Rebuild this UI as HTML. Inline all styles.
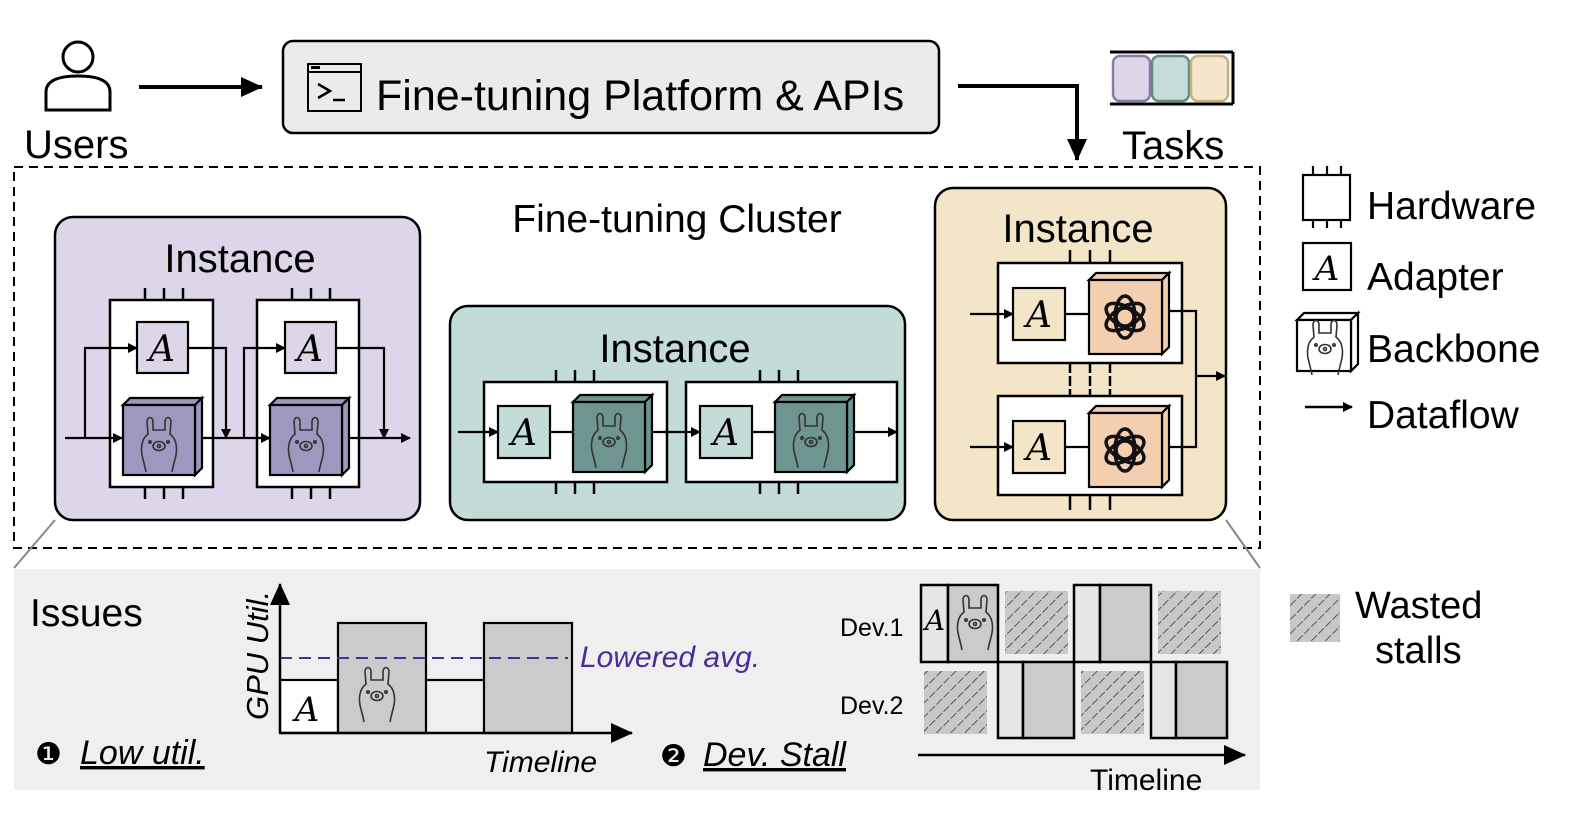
<!DOCTYPE html>
<html><head><meta charset="utf-8"><style>html,body{margin:0;padding:0;background:#fff}svg{display:block}text{font-family:"Liberation Sans",sans-serif}.A{font-family:"DejaVu Serif",serif;font-style:italic}</style></head><body>
<svg width="1586" height="828" viewBox="0 0 1586 828" xmlns="http://www.w3.org/2000/svg">
<defs>
<marker id="ah" markerWidth="10" markerHeight="10" refX="9" refY="5" orient="auto" markerUnits="userSpaceOnUse"><path d="M0,0 L10,5 L0,10z" fill="#000"/></marker>
<marker id="ahb" markerWidth="22" markerHeight="20" refX="21" refY="10" orient="auto" markerUnits="userSpaceOnUse"><path d="M0,0 L22,10 L0,20z" fill="#000"/></marker>
<pattern id="hatch" width="10" height="10" patternUnits="userSpaceOnUse" patternTransform="rotate(45)"><rect width="10" height="10" fill="#c8c8c8"/><line x1="0" y1="0" x2="0" y2="10" stroke="#333" stroke-width="1.5" stroke-dasharray="6,2"/></pattern>
<g id="llama" fill="none" stroke="#333" stroke-width="1.6">
<path d="M12,62 C10,50 6,44 8,34 C9,28 12,26 14,24 L13,12 C13,6 19,6 19,12 L19,20 L31,20 L31,12 C31,6 37,6 37,12 L36,24 C38,26 41,28 42,34 C44,44 40,50 38,62"/>
<ellipse cx="25" cy="36" rx="6" ry="4.5"/><circle cx="25" cy="36" r="1.5"/><circle cx="16" cy="32" r="1.2"/><circle cx="34" cy="32" r="1.2"/>
</g>
<g id="oai" fill="none" stroke="#111" stroke-width="3.5">
<g transform="translate(25,25)">
<ellipse rx="10" ry="21" transform="rotate(0)"/>
<ellipse rx="10" ry="21" transform="rotate(60)"/>
<ellipse rx="10" ry="21" transform="rotate(120)"/>
<circle r="9"/>
</g></g>
</defs>

<circle cx="78" cy="57" r="15" fill="none" stroke="#000" stroke-width="3"/>
<path d="M46,110 L46,92 C46,80 60,76 78,76 C96,76 110,80 110,92 L110,110 Z" fill="none" stroke="#000" stroke-width="3"/>
<text x="24" y="158" font-size="40">Users</text>
<line x1="139" y1="87" x2="262" y2="87" stroke="#000" stroke-width="4" marker-end="url(#ahb)"/>

<rect x="283" y="41" width="656" height="92" rx="10" fill="#ebebeb" stroke="#000" stroke-width="2.5"/>
<rect x="308" y="64" width="53" height="47" fill="none" stroke="#000" stroke-width="2"/>
<line x1="308" y1="72" x2="361" y2="72" stroke="#000" stroke-width="2"/>
<rect x="311" y="66" width="9" height="3" fill="#000"/>
<path d="M318,84 L330,91 L318,98" fill="none" stroke="#000" stroke-width="2.5"/>
<line x1="333" y1="100" x2="345" y2="100" stroke="#000" stroke-width="2.5"/>
<text x="376" y="110" font-size="43">Fine-tuning Platform &amp; APIs</text>
<polyline points="958,86 1077,86 1077,160" fill="none" stroke="#000" stroke-width="4" marker-end="url(#ahb)"/>

<line x1="1110" y1="52" x2="1233" y2="52" stroke="#000" stroke-width="3"/>
<line x1="1110" y1="104" x2="1233" y2="104" stroke="#000" stroke-width="3"/>
<line x1="1233" y1="52" x2="1233" y2="104" stroke="#000" stroke-width="3"/>
<rect x="1113" y="56" width="37" height="45" rx="7" fill="#ddd5e8" stroke="#8a78a8" stroke-width="2.5"/>
<rect x="1152" y="56" width="37" height="45" rx="7" fill="#c4ddd8" stroke="#5f8b84" stroke-width="2.5"/>
<rect x="1191" y="56" width="37" height="45" rx="7" fill="#f4e6cc" stroke="#c9b07f" stroke-width="2.5"/>
<text x="1122" y="159" font-size="40">Tasks</text>

<rect x="14" y="167" width="1246" height="381" fill="none" stroke="#000" stroke-width="2" stroke-dasharray="9,6"/>
<text x="677" y="232" font-size="39" text-anchor="middle">Fine-tuning Cluster</text>

<rect x="55" y="217" width="365" height="303" rx="18" fill="#dcd6e8" stroke="#000" stroke-width="2.5"/>
<text x="240" y="272" font-size="40" text-anchor="middle">Instance</text>
<g stroke="#000" stroke-width="2.5">
<line x1="145" y1="288" x2="145" y2="300"/><line x1="164" y1="288" x2="164" y2="300"/><line x1="183" y1="288" x2="183" y2="300"/>
<line x1="145" y1="487" x2="145" y2="499"/><line x1="164" y1="487" x2="164" y2="499"/><line x1="183" y1="487" x2="183" y2="499"/>
<line x1="292" y1="288" x2="292" y2="300"/><line x1="311" y1="288" x2="311" y2="300"/><line x1="330" y1="288" x2="330" y2="300"/>
<line x1="292" y1="487" x2="292" y2="499"/><line x1="311" y1="487" x2="311" y2="499"/><line x1="330" y1="487" x2="330" y2="499"/>
</g>
<rect x="110" y="300" width="103" height="187" fill="#fff" stroke="#000" stroke-width="2.5"/>
<rect x="257" y="300" width="102" height="187" fill="#fff" stroke="#000" stroke-width="2.5"/>
<g fill="none" stroke="#000" stroke-width="2.2">
<line x1="65" y1="438" x2="122" y2="438" marker-end="url(#ah)"/>
<polyline points="85,438 85,348 137,348" marker-end="url(#ah)"/>
<polyline points="188,348 226,348 226,438" marker-end="url(#ah)"/>
<line x1="200" y1="438" x2="270" y2="438" marker-end="url(#ah)"/>
<polyline points="244,438 244,348 285,348" marker-end="url(#ah)"/>
<polyline points="336,348 384,348 384,438" marker-end="url(#ah)"/>
<line x1="346" y1="438" x2="410" y2="438" marker-end="url(#ah)"/>
</g>
<rect x="137" y="322" width="51" height="51" fill="#dcd6e8" stroke="#000" stroke-width="2.2"/>
<text x="162" y="361" font-size="36" class="A" text-anchor="middle">A</text>
<rect x="285" y="322" width="51" height="51" fill="#dcd6e8" stroke="#000" stroke-width="2.2"/>
<text x="310" y="361" font-size="36" class="A" text-anchor="middle">A</text>
<g stroke="#000" stroke-width="2.2" fill="#9e98bf">
<polygon points="123,405 130,398 202,398 195,405"/><polygon points="195,405 202,398 202,468 195,475"/><rect x="123" y="405" width="72" height="70"/>
<polygon points="270,405 277,398 349,398 342,405"/><polygon points="342,405 349,398 349,468 342,475"/><rect x="270" y="405" width="72" height="70"/>
</g>
<use href="#llama" x="134" y="410"/><use href="#llama" x="281" y="410"/>

<rect x="450" y="306" width="455" height="214" rx="18" fill="#c3dcd7" stroke="#000" stroke-width="2.5"/>
<text x="675" y="362" font-size="40" text-anchor="middle">Instance</text>
<g stroke="#000" stroke-width="2.5">
<line x1="556" y1="370" x2="556" y2="382"/><line x1="575" y1="370" x2="575" y2="382"/><line x1="594" y1="370" x2="594" y2="382"/>
<line x1="556" y1="482" x2="556" y2="494"/><line x1="575" y1="482" x2="575" y2="494"/><line x1="594" y1="482" x2="594" y2="494"/>
<line x1="760" y1="370" x2="760" y2="382"/><line x1="779" y1="370" x2="779" y2="382"/><line x1="798" y1="370" x2="798" y2="382"/>
<line x1="760" y1="482" x2="760" y2="494"/><line x1="779" y1="482" x2="779" y2="494"/><line x1="798" y1="482" x2="798" y2="494"/>
</g>
<rect x="484" y="382" width="183" height="100" fill="#fff" stroke="#000" stroke-width="2.5"/>
<rect x="686" y="382" width="211" height="100" fill="#fff" stroke="#000" stroke-width="2.5"/>
<g fill="none" stroke="#000" stroke-width="2.2">
<line x1="458" y1="432" x2="498" y2="432" marker-end="url(#ah)"/>
<line x1="550" y1="432" x2="572" y2="432"/>
<line x1="650" y1="432" x2="700" y2="432" marker-end="url(#ah)"/>
<line x1="752" y1="432" x2="775" y2="432"/>
<line x1="852" y1="432" x2="897" y2="432" marker-end="url(#ah)"/>
</g>
<rect x="498" y="406" width="52" height="52" fill="#c3dcd7" stroke="#000" stroke-width="2.2"/>
<text x="524" y="445" font-size="36" class="A" text-anchor="middle">A</text>
<rect x="700" y="406" width="52" height="52" fill="#c3dcd7" stroke="#000" stroke-width="2.2"/>
<text x="726" y="445" font-size="36" class="A" text-anchor="middle">A</text>
<g stroke="#000" stroke-width="2.2" fill="#6f9590">
<polygon points="573,402 580,395 652,395 645,402"/><polygon points="645,402 652,395 652,465 645,472"/><rect x="573" y="402" width="72" height="70"/>
<polygon points="775,402 782,395 854,395 847,402"/><polygon points="847,402 854,395 854,465 847,472"/><rect x="775" y="402" width="72" height="70"/>
</g>
<use href="#llama" x="584" y="406"/><use href="#llama" x="786" y="406"/>

<rect x="935" y="188" width="291" height="332" rx="18" fill="#f3e6c8" stroke="#000" stroke-width="2.5"/>
<text x="1078" y="242" font-size="40" text-anchor="middle">Instance</text>
<g stroke="#000" stroke-width="2.5">
<line x1="1070" y1="250" x2="1070" y2="263"/><line x1="1090" y1="250" x2="1090" y2="263"/><line x1="1110" y1="250" x2="1110" y2="263"/>
<line x1="1070" y1="363" x2="1070" y2="396" stroke-dasharray="10,3"/><line x1="1090" y1="363" x2="1090" y2="396" stroke-dasharray="10,3"/><line x1="1110" y1="363" x2="1110" y2="396" stroke-dasharray="10,3"/>
<line x1="1070" y1="495" x2="1070" y2="510"/><line x1="1090" y1="495" x2="1090" y2="510"/><line x1="1110" y1="495" x2="1110" y2="510"/>
</g>
<rect x="998" y="263" width="184" height="100" fill="#fff" stroke="#000" stroke-width="2.5"/>
<rect x="998" y="396" width="184" height="99" fill="#fff" stroke="#000" stroke-width="2.5"/>
<g fill="none" stroke="#000" stroke-width="2.2">
<line x1="970" y1="314" x2="1013" y2="314" marker-end="url(#ah)"/>
<line x1="970" y1="447" x2="1013" y2="447" marker-end="url(#ah)"/>
<line x1="1065" y1="314" x2="1090" y2="314"/><line x1="1065" y1="447" x2="1090" y2="447"/>
<polyline points="1168,311 1196,311 1196,447 1168,447"/>
<line x1="1196" y1="376" x2="1225" y2="376" marker-end="url(#ah)"/>
</g>
<rect x="1013" y="288" width="52" height="52" fill="#f3e6c8" stroke="#000" stroke-width="2.2"/>
<text x="1039" y="327" font-size="36" class="A" text-anchor="middle">A</text>
<rect x="1013" y="421" width="52" height="52" fill="#f3e6c8" stroke="#000" stroke-width="2.2"/>
<text x="1039" y="460" font-size="36" class="A" text-anchor="middle">A</text>
<g stroke="#000" stroke-width="2.2" fill="#f3cfb0">
<polygon points="1089,280 1096,273 1169,273 1162,280"/><polygon points="1162,280 1169,273 1169,347 1162,354"/><rect x="1089" y="280" width="73" height="74"/>
<polygon points="1089,413 1096,406 1169,406 1162,413"/><polygon points="1162,413 1169,406 1169,480 1162,487"/><rect x="1089" y="413" width="73" height="74"/>
</g>
<use href="#oai" x="1100" y="292"/><use href="#oai" x="1100" y="425"/>

<g stroke="#000" stroke-width="2.2">
<line x1="1313" y1="166" x2="1313" y2="175"/><line x1="1327" y1="166" x2="1327" y2="175"/><line x1="1341" y1="166" x2="1341" y2="175"/>
<line x1="1313" y1="220" x2="1313" y2="228"/><line x1="1327" y1="220" x2="1327" y2="228"/><line x1="1341" y1="220" x2="1341" y2="228"/>
</g>
<rect x="1303" y="175" width="47" height="45" fill="#fff" stroke="#000" stroke-width="2.2"/>
<text x="1367" y="219" font-size="39">Hardware</text>
<rect x="1303" y="243" width="48" height="47" fill="#fff" stroke="#000" stroke-width="2.2"/>
<text x="1327" y="280" font-size="34" class="A" text-anchor="middle">A</text>
<text x="1367" y="290" font-size="39">Adapter</text>
<g stroke="#000" stroke-width="2.2" fill="#fff">
<polygon points="1297,320 1304,313 1358,313 1351,320"/><polygon points="1351,320 1358,313 1358,364 1351,371"/><rect x="1297" y="320" width="54" height="51"/>
</g>
<use href="#llama" x="1300" y="313"/>
<text x="1367" y="362" font-size="39">Backbone</text>
<line x1="1305" y1="407" x2="1352" y2="407" stroke="#000" stroke-width="2.5" marker-end="url(#ah)"/>
<text x="1367" y="428" font-size="39">Dataflow</text>

<line x1="55" y1="520" x2="14" y2="568" stroke="#888" stroke-width="2"/>
<line x1="1226" y1="520" x2="1260" y2="568" stroke="#888" stroke-width="2"/>
<rect x="14" y="569" width="1246" height="221" fill="#efefef"/>
<text x="30" y="626" font-size="39">Issues</text>
<rect x="280" y="680" width="58" height="53" fill="#fff" stroke="#000" stroke-width="2.2"/>
<text x="307" y="721" font-size="34" class="A" text-anchor="middle">A</text>
<rect x="338" y="623" width="88" height="110" fill="#cbcbcb" stroke="#000" stroke-width="2.2"/>
<use href="#llama" x="352" y="660"/>
<polyline points="426,680 484,680" stroke="#000" stroke-width="2.2"/>
<rect x="484" y="623" width="88" height="110" fill="#cbcbcb" stroke="#000" stroke-width="2.2"/>
<line x1="280" y1="658" x2="568" y2="658" stroke="#4b2a9a" stroke-width="2" stroke-dasharray="12,7"/>
<line x1="280" y1="733" x2="280" y2="584" stroke="#000" stroke-width="2.5" marker-end="url(#ahb)"/>
<line x1="280" y1="733" x2="632" y2="733" stroke="#000" stroke-width="2.5" marker-end="url(#ahb)"/>
<text transform="translate(268,720) rotate(-90)" font-size="31" font-style="italic">GPU Util.</text>
<text x="580" y="667" font-size="30" font-style="italic" fill="#4b2a9a">Lowered avg.</text>
<text x="484" y="772" font-size="30" font-style="italic">Timeline</text>
<text x="35" y="764" font-size="30">❶</text>
<text x="80" y="764" font-size="34" font-style="italic" text-decoration="underline">Low util.</text>
<text x="660" y="766" font-size="30">❷</text>
<text x="703" y="766" font-size="34" font-style="italic" text-decoration="underline">Dev. Stall</text>

<text x="840" y="636" font-size="25">Dev.1</text>
<text x="840" y="714" font-size="25">Dev.2</text>
<g stroke="#000" stroke-width="2.5">
<rect x="921" y="585" width="27" height="77" fill="#e6e6e6"/><rect x="948" y="585" width="50" height="77" fill="#cbcbcb"/>
<rect x="1074" y="585" width="26" height="77" fill="#e6e6e6"/><rect x="1100" y="585" width="51" height="77" fill="#cbcbcb"/>
<rect x="998" y="662" width="25" height="76" fill="#e6e6e6"/><rect x="1023" y="662" width="51" height="76" fill="#cbcbcb"/>
<rect x="1151" y="662" width="25" height="76" fill="#e6e6e6"/><rect x="1176" y="662" width="51" height="76" fill="#cbcbcb"/>
</g>
<text x="935" y="630" font-size="28" class="A" text-anchor="middle">A</text>
<use href="#llama" x="950" y="588"/>
<g fill="url(#hatch)">
<rect x="1005" y="591" width="63" height="63"/><rect x="1158" y="591" width="63" height="63"/>
<rect x="924" y="671" width="63" height="63"/><rect x="1081" y="671" width="63" height="63"/>
</g>
<line x1="918" y1="755" x2="1245" y2="755" stroke="#000" stroke-width="2.5" marker-end="url(#ahb)"/>
<text x="1090" y="790" font-size="30">Timeline</text>

<rect x="1290" y="594" width="50" height="48" fill="url(#hatch)"/>
<text x="1355" y="618" font-size="38">Wasted</text>
<text x="1375" y="663" font-size="38">stalls</text>
</svg>
</body></html>
